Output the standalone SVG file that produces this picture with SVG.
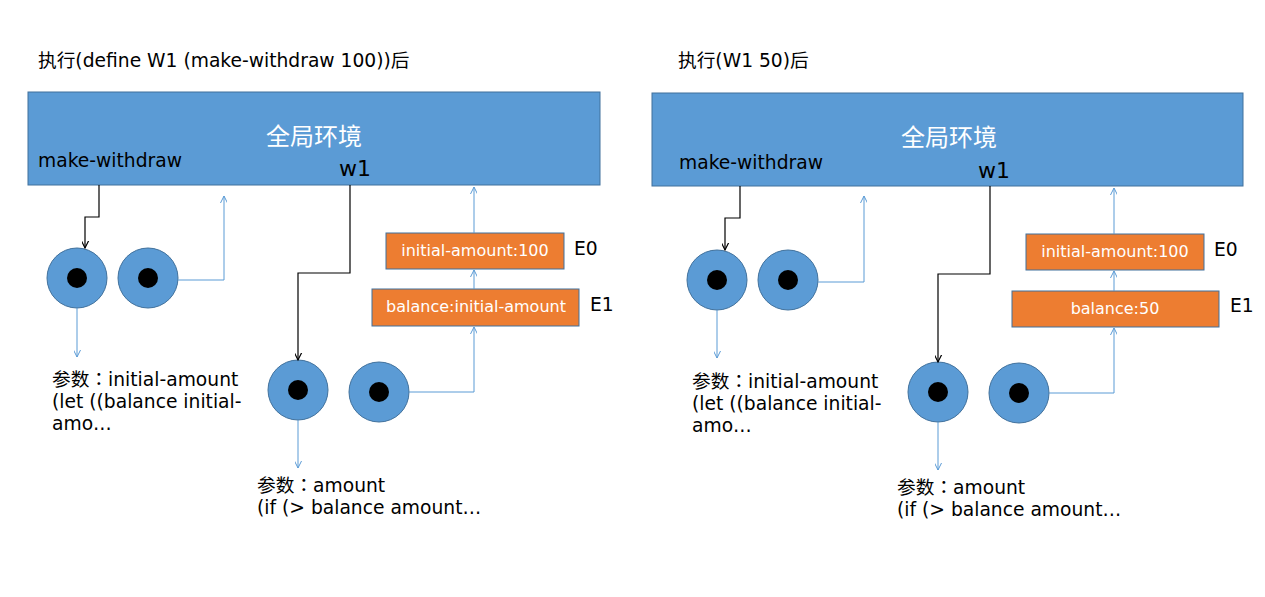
<svg xmlns="http://www.w3.org/2000/svg" width="1265" height="597" viewBox="0 0 1265 597">
<style>
text{font-family:"DejaVu Sans","Noto Sans CJK SC",sans-serif;}
.t{font-size:18.7px;fill:#000;}
.cl{font-family:"Noto Sans CJK TC",sans-serif;}
.g{fill:#5B9BD5;stroke:#41719C;stroke-width:1;}
.gt{font-size:24px;fill:#fff;text-anchor:middle;}
.w{font-size:22px;fill:#000;}
.o{fill:#ED7D31;stroke:#41719C;stroke-width:1;}
.ot{font-size:16px;fill:#fff;text-anchor:middle;}
.c{fill:#5B9BD5;stroke:#41719C;stroke-width:1;}
.d{fill:#000;}
.k{fill:none;stroke:#000;stroke-width:1.2;marker-end:url(#ak);}
.b{fill:none;stroke:#5B9BD5;stroke-width:1;marker-end:url(#ab);}
</style>
<defs>
<marker id="ak" markerUnits="userSpaceOnUse" markerWidth="14" markerHeight="14" viewBox="-7 -11 14 14" refX="0" refY="0" orient="auto">
<path d="M-4.5,-9 L0,0 L4.5,-9" fill="none" stroke="#000" stroke-width="1.2" transform="rotate(-90)"/>
</marker>
<marker id="ab" markerUnits="userSpaceOnUse" markerWidth="14" markerHeight="14" viewBox="-7 -11 14 14" refX="0" refY="0" orient="auto">
<path d="M-4.5,-9 L0,0 L4.5,-9" fill="none" stroke="#5B9BD5" stroke-width="1" transform="rotate(-90)"/>
</marker>
</defs>
<rect width="1265" height="597" fill="#fff"/>

<g id="panel-left">
<text id="title-left" class="t" x="38" y="67">执行(define W1 (make-withdraw 100))后</text>
<g id="global-left">
<rect class="g" x="28" y="92" width="572" height="93"/>
<text class="gt" x="314" y="145">全局环境</text>
<text class="t" x="38" y="167">make-withdraw</text>
<text class="w" x="339" y="176">w1</text>
</g>
<g id="proc1-left">
<circle class="c" cx="77" cy="278" r="30"/><circle class="d" cx="77" cy="278" r="10"/>
<circle class="c" cx="148" cy="278" r="30"/><circle class="d" cx="148" cy="278" r="10"/>
</g>
<g id="proc2-left">
<circle class="c" cx="298" cy="390" r="30"/><circle class="d" cx="298" cy="390" r="10"/>
<circle class="c" cx="379" cy="392" r="30"/><circle class="d" cx="379" cy="392" r="10"/>
</g>
<g id="e0-left">
<rect class="o" x="386" y="233" width="178" height="36"/>
<text class="ot" x="475" y="256">initial-amount:100</text>
<text class="t" x="574" y="255">E0</text>
</g>
<g id="e1-left">
<rect class="o" x="372" y="289" width="207" height="37"/>
<text class="ot" x="476" y="312">balance:initial-amount</text>
<text class="t" x="590" y="311">E1</text>
</g>
<g id="body1-left">
<text class="t" x="52" y="386">参数<tspan class="cl">：</tspan>initial-amount</text>
<text class="t" x="52" y="408">(let ((balance initial-</text>
<text class="t" x="52" y="430">amo…</text>
</g>
<g id="body2-left">
<text class="t" x="257" y="492">参数<tspan class="cl">：</tspan>amount</text>
<text class="t" x="257" y="514">(if (&gt; balance amount…</text>
</g>
</g>

<g id="panel-right">
<text id="title-right" class="t" x="678" y="67">执行(W1 50)后</text>
<g id="global-right">
<rect class="g" x="652" y="93" width="591" height="93"/>
<text class="gt" x="949" y="146">全局环境</text>
<text class="t" x="679" y="169">make-withdraw</text>
<text class="w" x="978" y="178">w1</text>
</g>
<g id="proc1-right">
<circle class="c" cx="717" cy="280" r="30"/><circle class="d" cx="717" cy="280" r="10"/>
<circle class="c" cx="788" cy="280" r="30"/><circle class="d" cx="788" cy="280" r="10"/>
</g>
<g id="proc2-right">
<circle class="c" cx="938" cy="392" r="30"/><circle class="d" cx="938" cy="392" r="10"/>
<circle class="c" cx="1019" cy="393" r="30"/><circle class="d" cx="1019" cy="393" r="10"/>
</g>
<g id="e0-right">
<rect class="o" x="1026" y="234" width="178" height="36"/>
<text class="ot" x="1115" y="257">initial-amount:100</text>
<text class="t" x="1214" y="256">E0</text>
</g>
<g id="e1-right">
<rect class="o" x="1012" y="291" width="207" height="36"/>
<text class="ot" x="1115" y="314">balance:50</text>
<text class="t" x="1230" y="312">E1</text>
</g>
<g id="body1-right">
<text class="t" x="692" y="388">参数<tspan class="cl">：</tspan>initial-amount</text>
<text class="t" x="692" y="410">(let ((balance initial-</text>
<text class="t" x="692" y="432">amo…</text>
</g>
<g id="body2-right">
<text class="t" x="897" y="494">参数<tspan class="cl">：</tspan>amount</text>
<text class="t" x="897" y="516">(if (&gt; balance amount…</text>
</g>
</g>

<g id="connectors">
<path class="k" d="M99,185 V217 H85 V248"/>
<path class="b" d="M178,280 H224 V196"/>
<path class="b" d="M77,308 V357"/>
<path class="k" d="M350,185 V273 H298 V360"/>
<path class="b" d="M298,420 V468"/>
<path class="b" d="M409,392 H474 V327"/>
<path class="b" d="M474,289 V270"/>
<path class="b" d="M474,233 V187"/>

<path class="k" d="M740,186 V218 H725 V250"/>
<path class="b" d="M818,282 H864 V196"/>
<path class="b" d="M717,310 V358"/>
<path class="k" d="M990,186 V274 H938 V362"/>
<path class="b" d="M938,422 V470"/>
<path class="b" d="M1049,393 H1114 V328"/>
<path class="b" d="M1114,291 V271"/>
<path class="b" d="M1114,234 V188"/>
</g>
</svg>
